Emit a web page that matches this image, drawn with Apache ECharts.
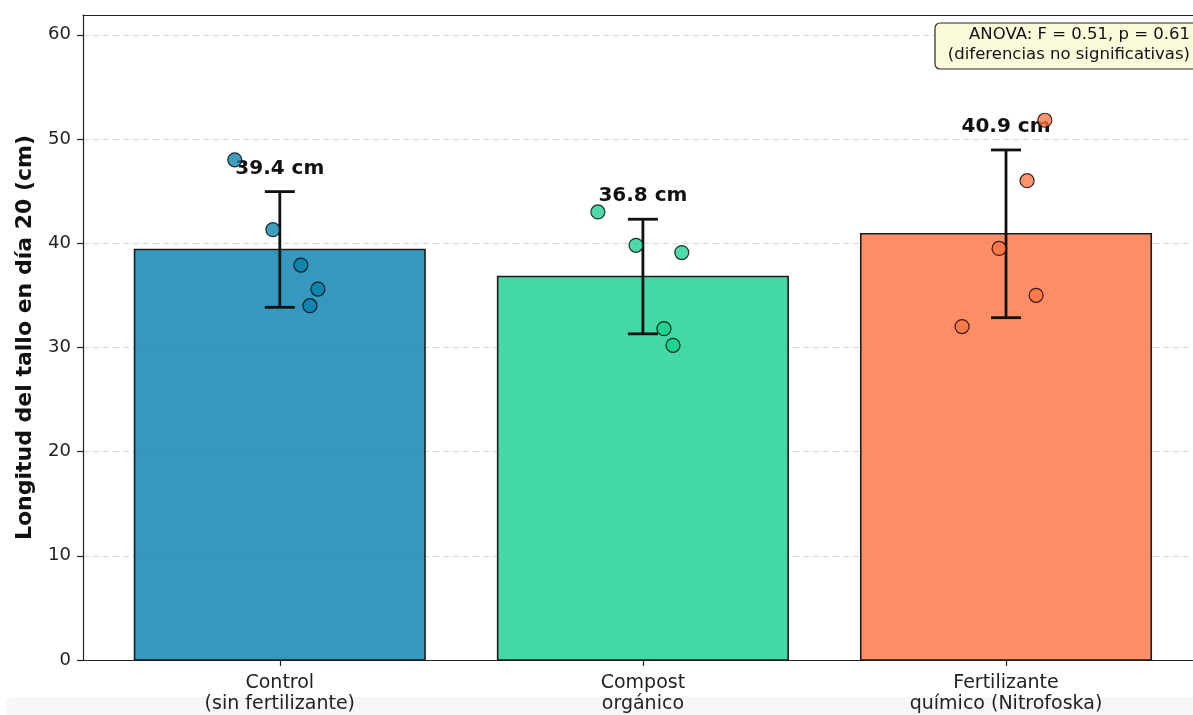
<!DOCTYPE html>
<html>
<head>
<meta charset="utf-8">
<script src="https://cdn.jsdelivr.net/npm/echarts@6/dist/echarts.min.js"></script>
<style>
  html, body { margin: 0; padding: 0; background: #ffffff; }
  #chart { width: 1193px; height: 715px; }
</style>
</head>
<body>
<div id="chart"></div>
<script>
// Stem length on day 20 by treatment
const categories = ['Control\n(sin fertilizante)', 'Compost\norgánico', 'Fertilizante\nquímico (Nitrofoska)'];
const means = [39.4, 36.8, 40.9];
const sds = [5.55, 5.5, 8.05];

// individual plants per treatment, with their horizontal jitter
const controlValues = [48.0, 41.3, 37.9, 35.6, 34.0];
const controlJitter = [-0.124, -0.019, 0.058, 0.105, 0.083];
const compostValues = [43.0, 39.8, 39.1, 31.8, 30.2];
const compostJitter = [-0.124, -0.019, 0.107, 0.058, 0.083];
const fertValues = [51.8, 46.0, 39.5, 35.0, 32.0];
const fertJitter = [0.107, 0.058, -0.019, 0.083, -0.121];

const yTicks = [0, 10, 20, 30, 40, 50, 60];
const xTicks = [0, 1, 2];

const baseColors = [[2, 126, 171], [21, 206, 141], [255, 114, 64]];
const rgba = (c, a) => `rgba(${c[0]},${c[1]},${c[2]},${a})`;
const FONT = 'DejaVu Sans';
const BAR_HALF = 0.4;

const chart = echarts.init(document.getElementById('chart'), null, { renderer: 'canvas' });

const pointSeries = [
  [controlValues, controlJitter],
  [compostValues, compostJitter],
  [fertValues, fertJitter]
].map(([vals, jit], i) => ({
  type: 'scatter',
  z: 10,
  symbol: 'circle',
  symbolSize: 14,
  itemStyle: { color: rgba(baseColors[i], 0.95), borderColor: '#000', borderWidth: 1.2 },
  data: vals.map((v, k) => [i + jit[k], v]),
  silent: true
}));

const frameLine = { show: true, onZero: false, lineStyle: { color: '#222', width: 1.2 } };

const option = {
  animation: false,
  backgroundColor: '#ffffff',
  grid: { left: 83, right: 0, top: 15, bottom: 54, show: false },
  xAxis: [
    {
      type: 'value',
      min: -0.542, max: 2.515,
      axisLine: frameLine,
      axisTick: { show: true, customValues: xTicks, length: 6, lineStyle: { color: '#222', width: 1.2 } },
      axisLabel: {
        customValues: xTicks,
        formatter: v => categories[Math.round(v)],
        color: '#222', fontFamily: FONT, fontSize: 19, lineHeight: 21, margin: 13
      },
      splitLine: { show: false }
    },
    {
      // top frame edge
      type: 'value', position: 'top',
      min: -0.542, max: 2.515,
      axisLine: frameLine,
      axisTick: { show: false }, axisLabel: { show: false }, splitLine: { show: false }
    }
  ],
  yAxis: {
    type: 'value',
    min: 0, max: 61.9,
    name: 'Longitud del tallo en día 20 (cm)',
    nameLocation: 'middle',
    nameGap: 47,
    nameRotate: 90,
    nameTextStyle: { fontFamily: FONT, fontSize: 22, fontWeight: 'bold', color: '#111' },
    axisLine: frameLine,
    axisTick: { show: true, customValues: yTicks, length: 6, lineStyle: { color: '#222', width: 1.2 } },
    axisLabel: { customValues: yTicks, color: '#222', fontFamily: FONT, fontSize: 18, margin: 12 },
    splitLine: { show: true, lineStyle: { color: '#d6d6d6', type: [6, 4], width: 1 } }
  },
  graphic: [
    {
      type: 'rect', z: -10, silent: true,
      shape: { x: 6, y: 697, width: 1200, height: 30, r: [8, 0, 0, 0] },
      style: { fill: '#f7f7f7' }
    },
    {
      type: 'rect', z: 100, silent: true,
      shape: { x: 935, y: 23, width: 268, height: 46, r: 5 },
      style: { fill: '#fbfbdc', stroke: '#2a2a2a', lineWidth: 1.2 }
    },
    {
      type: 'text', z: 101, silent: true,
      style: {
        x: 1190, y: 25,
        text: 'ANOVA: F = 0.51, p = 0.61\n(diferencias no significativas)',
        align: 'right', verticalAlign: 'top',
        font: '16.5px "DejaVu Sans"', lineHeight: 20, fill: '#111'
      }
    }
  ],
  series: [
    {
      // bars: mean per treatment
      type: 'custom',
      z: 2,
      silent: true,
      data: means.map((m, i) => [i, m]),
      renderItem: (params, api) => {
        const x = api.value(0), y = api.value(1);
        const p0 = api.coord([x - BAR_HALF, y]);
        const p1 = api.coord([x + BAR_HALF, 0]);
        return {
          type: 'rect',
          shape: { x: p0[0], y: p0[1], width: p1[0] - p0[0], height: p1[1] - p0[1] },
          style: { fill: rgba(baseColors[params.dataIndex], 0.8), stroke: '#1c1c1c', lineWidth: 1.6 }
        };
      }
    },
    {
      // error bars (± sd) and value labels
      type: 'custom',
      z: 5,
      silent: true,
      data: means.map((m, i) => [i, m, sds[i]]),
      renderItem: (params, api) => {
        const x = api.value(0), m = api.value(1), sd = api.value(2);
        const top = api.coord([x, m + sd]);
        const bot = api.coord([x, m - sd]);
        const cap = 15;
        const ls = { stroke: '#111', lineWidth: 2.8 };
        return {
          type: 'group',
          children: [
            { type: 'line', shape: { x1: top[0], y1: top[1], x2: bot[0], y2: bot[1] }, style: ls },
            { type: 'line', shape: { x1: top[0] - cap, y1: top[1], x2: top[0] + cap, y2: top[1] }, style: ls },
            { type: 'line', shape: { x1: bot[0] - cap, y1: bot[1], x2: bot[0] + cap, y2: bot[1] }, style: ls },
            {
              type: 'text',
              style: {
                x: top[0], y: top[1] - 23,
                text: m.toFixed(1) + ' cm',
                align: 'center', verticalAlign: 'middle',
                font: 'bold 20px "DejaVu Sans"', fill: '#111'
              }
            }
          ]
        };
      }
    },
    ...pointSeries
  ]
};

chart.setOption(option);
</script>
</body>
</html>
